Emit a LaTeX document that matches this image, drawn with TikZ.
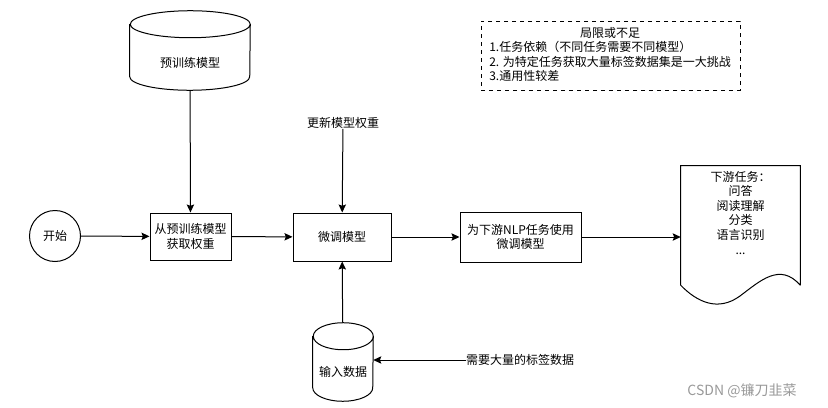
\documentclass[tikz,border=0pt]{standalone}
\usepackage{fontspec}
\setmainfont{Noto Sans CJK SC}
\usetikzlibrary{arrows.meta}

\def\px{0.75pt}
% cylinder outline round a named node: #1 node, #2 half width in px
\newcommand{\dbcyl}[2]{%
  \draw[line width=0.75pt] ([yshift=-13.5*\px]#1.north west) -- ([yshift=13.5*\px]#1.south west)
    arc[start angle=180, end angle=360, x radius=#2*\px, y radius=13.5*\px]
    -- ([yshift=-13.5*\px]#1.north east)
    arc[start angle=0, end angle=360, x radius=#2*\px, y radius=13.5*\px];}
\tikzset{
  stepbox/.style={draw, line width=0.75pt, align=center, inner sep=0pt},
  dbshape/.style={inner sep=0pt},
  flow/.style={line width=0.75pt, -{Stealth[length=6pt,width=5.5pt,inset=1pt]}},
  plaintext/.style={inner sep=0pt, align=center},
  notebox/.style={draw, dashed, line width=0.75pt, inner sep=0pt}
}

\begin{document}
\begin{tikzpicture}[x=0.75pt, y=-0.75pt, font=\fontsize{9pt}{10.9pt}\selectfont]
  \useasboundingbox (0,0) rectangle (828,407);
  % shapes
  \node[dbshape, minimum width=120*\px, minimum height=79*\px] (pretrained) at (190,50.5) {\raisebox{-8.4pt}[8pt][0pt]{预训练模型}};
  \dbcyl{pretrained}{60}
  \node[draw, circle, line width=0.75pt, minimum size=51*\px, inner sep=0pt] (start) at (55,236) {开始};
  \node[stepbox, minimum width=81*\px, minimum height=47*\px] (getw) at (190.5,236.5) {从预训练模型\\获取权重};
  \node[stepbox, minimum width=98*\px, minimum height=48*\px] (finetune) at (342,237) {微调模型};
  \node[stepbox, minimum width=121*\px, minimum height=50*\px] (use) at (520.5,237) {为下游NLP任务使用\\微调模型};
  \node[plaintext] (update) at (343,123) {更新模型权重};
  \node[dbshape, minimum width=60*\px, minimum height=78*\px] (input) at (343,362) {\raisebox{-6.5pt}[8pt][0pt]{输入数据}};
  \dbcyl{input}{30}
  \node[plaintext] (needdata) at (520,360) {需要大量的标签数据};
  \node[minimum width=119*\px, minimum height=119*\px, inner sep=0pt] (tasks) at (740.5,225.5) {};
  \node[plaintext, anchor=north] (tasktext) at (740.5,171) {下游任务：\\问答\\阅读理解\\分类\\语言识别\\...};

  % document outline
  \draw[line width=0.75pt] (tasks.south east) -- (tasks.north east) -- (tasks.north west) -- (tasks.south west)
    .. controls (697,302) and (718,312) .. (740,296)
    .. controls (760,281) and (780,262) .. (tasks.south east);

  % limits note
  \node[notebox, minimum width=259*\px, minimum height=69*\px] (limits) at (610.5,55.5) {};
  \node[plaintext] (limtitle) at (610,33) {局限或不足};
  \node[plaintext, align=left, anchor=north west] (limlist) at (489,41) {1.任务依赖（不同任务需要不同模型）\\2. 为特定任务获取大量标签数据集是一大挑战\\3.通用性较差};

  % flow
  \draw[flow] (start) -- (getw);
  \draw[flow] (getw) -- (finetune);
  \draw[flow] (finetune) -- (use);
  \draw[flow] (use) -- (use -| tasks.west);
  \draw[flow] (pretrained) -- (getw);
  \draw[flow] (update) -- (finetune);
  \draw[flow] (input) -- (finetune);
  \draw[flow] (needdata) -- (needdata -| input.east);

  \node[text=black!40, font=\fontsize{10.5pt}{12pt}\selectfont] (mark) at (742,391) {CSDN @镰刀韭菜};
\end{tikzpicture}
\end{document}
